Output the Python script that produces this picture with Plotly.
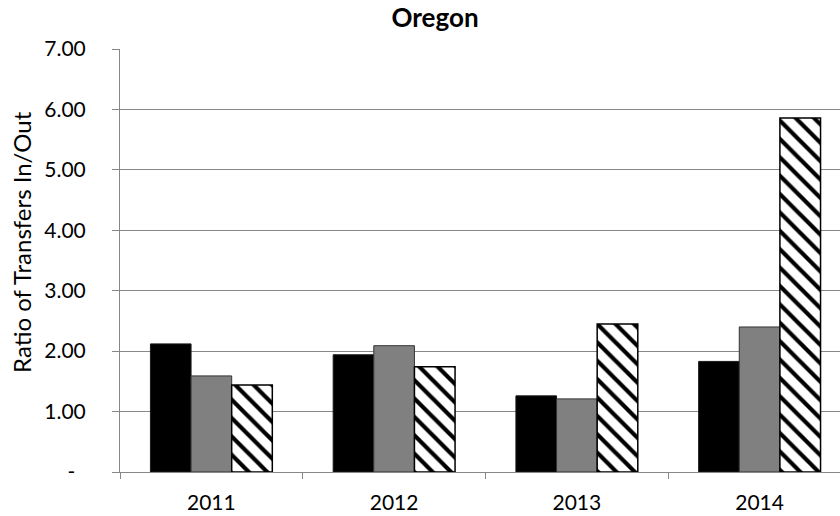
import plotly.graph_objects as go

# Transfer ratios for Oregon, by year and series
years = ["2011", "2012", "2013", "2014"]
series_a = [2.12, 1.94, 1.26, 1.83]   # solid black
series_b = [1.59, 2.09, 1.21, 2.40]   # solid grey
series_c = [1.44, 1.74, 2.45, 5.86]   # diagonal hatch

y_tickvals = [0, 1, 2, 3, 4, 5, 6, 7]
y_ticktext = ["-\u2002", "1.00", "2.00", "3.00", "4.00", "5.00", "6.00", "7.00"]

FONT = "Lato"
AXIS_GREY = "#878787"

fig = go.Figure()
fig.add_trace(go.Bar(
    x=years, y=series_a, name="Series A",
    marker=dict(color="#000000", line=dict(color="#1a1a1a", width=1)),
))
fig.add_trace(go.Bar(
    x=years, y=series_b, name="Series B",
    marker=dict(color="#808080", line=dict(color="#333333", width=1)),
))
fig.add_trace(go.Bar(
    x=years, y=series_c, name="Series C",
    marker=dict(
        color="#ffffff",
        line=dict(color="#000000", width=1.5),
        pattern=dict(shape="\\", fgcolor="#000000", bgcolor="#ffffff",
                     size=13, solidity=0.32, fillmode="replace"),
    ),
))

fig.update_layout(
    width=840, height=516,
    margin=dict(l=120, r=0, t=49, b=44),
    paper_bgcolor="#ffffff", plot_bgcolor="#ffffff",
    barmode="group", bargap=0.333, bargroupgap=0,
    showlegend=False,
    font=dict(family=FONT, color="#000000"),
    title=dict(
        text="<b>Oregon</b>", font=dict(family=FONT, size=26, color="#000000"),
        x=435 / 840, xanchor="center", xref="container",
        y=1 - 18 / 516, yanchor="middle", yref="container",
    ),
    xaxis=dict(
        type="category", range=[-0.5, 3.44],
        showline=True, linecolor=AXIS_GREY, linewidth=1,
        ticks="outside", tickson="boundaries", ticklen=6, tickcolor=AXIS_GREY,
        showgrid=False, zeroline=False, ticklabelstandoff=12,
        tickfont=dict(family=FONT, size=21, color="#000000"),
    ),
    yaxis=dict(
        range=[0, 7], tickvals=y_tickvals, ticktext=y_ticktext,
        showline=True, linecolor=AXIS_GREY, linewidth=1,
        ticks="outside", ticklen=7, tickcolor=AXIS_GREY,
        showgrid=True, gridcolor=AXIS_GREY, gridwidth=1,
        zeroline=False, ticklabelstandoff=22,
        tickfont=dict(family=FONT, size=21, color="#000000"),
    ),
    annotations=[dict(
        text="Ratio of Transfers In/Out", textangle=-90,
        xref="paper", yref="paper",
        x=(22 - 120) / 720, y=0.544, xanchor="center", yanchor="middle",
        showarrow=False, font=dict(family=FONT, size=24, color="#000000"),
    )],
)

fig.write_html("out.html")
